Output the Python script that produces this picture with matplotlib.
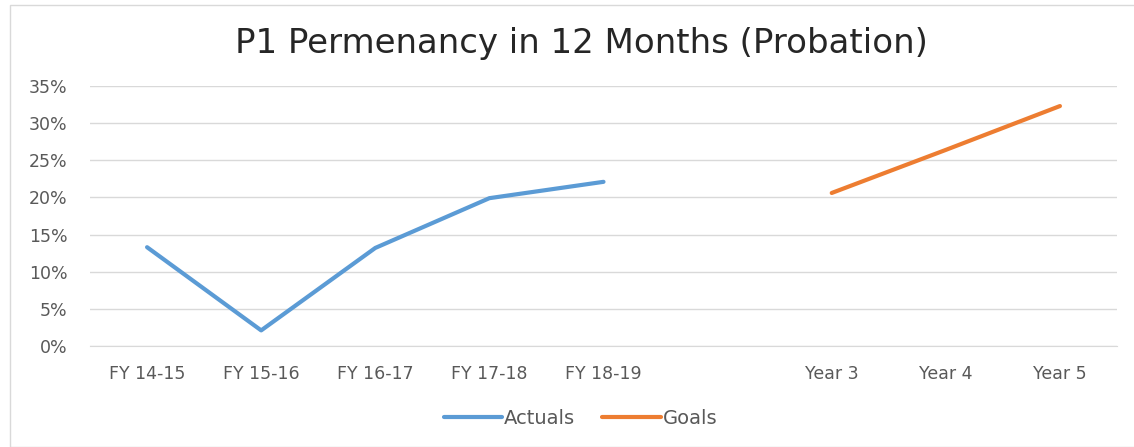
import numpy as np
import matplotlib.pyplot as plt
from matplotlib.patches import Rectangle
from matplotlib.ticker import PercentFormatter

categories = ["FY 14-15", "FY 15-16", "FY 16-17", "FY 17-18", "FY 18-19", "",
              "Year 3", "Year 4", "Year 5"]
actuals = [0.133, 0.021, 0.132, 0.199, 0.221]
goals = [0.206, 0.264, 0.323]
actual_idx = [0, 1, 2, 3, 4]
goal_idx = [6, 7, 8]

plt.rcParams['font.family'] = ['DejaVu Sans']

fig = plt.figure(figsize=(11.34, 4.47), dpi=100)
fig.patches.append(Rectangle((10 / 1134, 0), 1.0, 1 - 5 / 447, transform=fig.transFigure,
                             fill=False, edgecolor='#d9d9d9', linewidth=1))

ax = fig.add_axes([90 / 1134, 1 - 346 / 447, (1117 - 90) / 1134, (346 - 86) / 447])
x = np.arange(len(categories))
ax.plot(actual_idx, actuals, color='#5B9BD5', lw=3, label='Actuals', solid_capstyle='round')
ax.plot(goal_idx, goals, color='#ED7D31', lw=3, label='Goals', solid_capstyle='round')

ax.set_xlim(-0.5, len(categories) - 0.5)
ax.set_ylim(0, 0.35)
ax.set_yticks(np.arange(0, 0.351, 0.05))
ax.yaxis.set_major_formatter(PercentFormatter(1.0, decimals=0))
ax.set_xticks(x)
ax.set_xticklabels(categories)
ax.grid(axis='y', color='#d9d9d9', lw=1)
ax.set_axisbelow(True)
for s in ['top', 'right', 'left']:
    ax.spines[s].set_visible(False)
ax.spines['bottom'].set_color('#d9d9d9')
ax.tick_params(length=0, colors='#595959', labelsize=12.5)
ax.tick_params(axis='x', pad=14)
ax.tick_params(axis='y', pad=16)

fig.text(0.513, 1 - 43 / 447, "P1 Permenancy in 12 Months (Probation)", ha='center', va='center',
         fontsize=24.5, color='#262626')

fig.legend(loc='center', bbox_to_anchor=(0.512, 1 - 418 / 447), ncol=2, frameon=False,
           fontsize=14, handlelength=3.0, handletextpad=0.1, columnspacing=1.4,
           labelcolor='#595959')

fig.savefig('out.png', dpi=100)
